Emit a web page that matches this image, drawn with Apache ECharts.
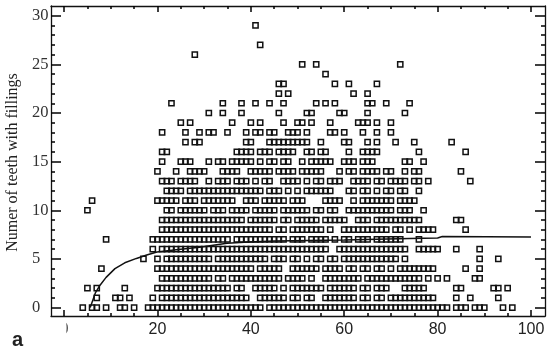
<!DOCTYPE html>
<html>
  <head>
    <meta charset="utf-8" />
    <title>Number of teeth with fillings</title>
    <script src="https://cdn.jsdelivr.net/npm/echarts@6/dist/echarts.min.js"></script>
    <style>
      html, body { margin: 0; padding: 0; background: #fff; }
      #chart { width: 550px; height: 352px; }
    </style>
  </head>
  <body>
    <div id="chart"></div>
    <script type="text/javascript">
      // ages seen on each row of the plot, row number = teeth with fillings
      var row0 = [4,6,7,9,12,13,15,18,19,20,21,22,23,24,25,26,27,28,29,30,31,32,33,34,35,36,37,38,39,40,41,42,44,45,46,47,48,49,50,51,52,53,54,55,56,57,58,59,60,61,62,63,64,65,66,67,68,69,70,71,72,73,74,75,76,77,78,79,80,81,82,84,85,86,88,89,90,94,96];
      var row1 = [7,11,12,14,19,21,22,23,24,25,26,27,28,29,30,31,32,33,34,35,36,37,38,39,42,43,44,45,46,47,49,50,52,53,56,57,58,59,60,61,62,64,65,67,68,70,71,72,73,74,75,76,77,78,79,84,87,93];
      var row2 = [5,7,13,20,21,22,23,24,25,26,27,28,29,30,31,32,33,34,35,37,38,41,42,43,44,45,47,49,50,51,52,53,54,55,57,58,59,60,61,62,64,65,67,68,69,73,74,75,76,77,84,85,92,93,95];
      var row3 = [21,22,23,24,25,26,27,28,29,30,31,33,34,36,37,38,39,40,41,42,43,44,45,46,48,49,50,51,53,56,57,58,59,60,61,62,63,65,66,67,68,69,70,71,72,73,74,75,76,78,80,82,88,89];
      var row4 = [8,20,21,22,23,24,25,26,27,28,29,30,31,32,33,34,35,36,37,38,39,40,42,43,44,45,46,49,50,51,52,53,54,56,57,58,59,61,62,64,65,67,68,70,72,73,74,75,76,77,78,79,86,89];
      var row5 = [17,20,22,23,24,25,26,27,28,29,30,31,33,34,35,36,37,38,39,40,41,42,43,45,46,47,49,50,52,54,55,57,58,60,61,62,63,64,65,66,67,68,69,70,71,73,89,93];
      var row6 = [19,21,22,23,24,25,26,27,28,29,30,31,32,33,34,35,36,37,38,39,40,41,42,43,44,45,46,47,48,49,50,51,52,53,54,55,56,59,60,61,62,63,64,65,66,67,68,69,70,71,72,73,76,77,78,79,80,84,89];
      var row7 = [9,19,20,21,22,23,24,25,26,27,28,29,30,31,32,33,34,35,37,38,39,40,41,42,43,44,45,46,47,49,50,51,53,54,55,56,58,60,61,63,64,65,67,68,69,70,71,72,76];
      var row8 = [21,22,23,24,25,26,27,28,29,30,31,32,33,34,35,36,37,38,39,40,41,42,43,44,46,47,49,50,51,52,53,54,55,57,60,61,62,63,64,65,66,67,68,69,71,72,74,76,77,78,79,86];
      var row9 = [21,22,23,24,25,26,27,28,29,30,31,32,33,34,35,36,37,38,40,41,42,43,44,45,47,48,50,51,52,53,54,56,57,58,59,60,63,64,65,67,68,69,70,71,72,73,74,75,76,84,85];
      var row10 = [5,22,23,25,26,27,28,29,30,32,33,34,36,37,38,39,41,42,43,44,45,47,48,49,50,51,52,54,55,57,58,61,62,63,64,65,66,67,68,69,70,72,73,74,77];
      var row11 = [6,20,21,22,23,24,26,27,28,30,31,32,33,34,35,36,39,40,41,43,44,45,46,47,49,50,51,56,57,58,59,62,64,65,66,67,68,69,70,72,73,74,75];
      var row12 = [22,23,24,25,27,28,29,30,31,32,33,34,35,36,37,38,39,40,41,42,44,45,46,48,50,52,53,54,55,56,57,61,62,64,65,67,69,70,72,73,76];
      var row13 = [21,22,23,25,26,27,28,31,33,34,35,37,38,39,41,43,44,47,48,49,50,52,54,55,57,58,59,62,63,64,65,67,68,70,71,72,73,75,76,78,87];
      var row14 = [20,24,27,28,29,30,34,35,36,37,40,41,42,43,44,46,47,48,49,51,52,53,54,55,59,61,62,64,65,66,67,69,70,73,75,76,85];
      var row15 = [21,25,26,27,31,33,34,36,37,38,39,40,42,44,45,47,48,51,53,54,55,56,57,60,61,62,64,65,66,73,74,77];
      var row16 = [21,22,37,38,39,40,42,43,44,46,47,48,49,52,53,55,56,61,64,65,66,67,76,86];
      var row17 = [26,28,29,39,40,44,45,46,47,48,49,50,51,52,55,60,61,65,67,71,75,83];
      var row18 = [21,26,29,31,32,35,39,41,42,44,45,48,49,50,52,57,58,60,64,67,70];
      var row19 = [25,27,36,40,42,47,50,51,53,57,63,64,65,67,70];
      var row20 = [31,34,38,46,52,53,59,60,65,73];
      var row21 = [23,34,38,41,44,47,54,56,58,65,66,69,74];
      var row22 = [46,48,62,65];
      var row23 = [46,47,58,61,67];
      var row24 = [56];
      var row25 = [51,54,72];
      var row26 = [28];
      var row27 = [42];
      var row28 = [];
      var row29 = [41];
      var rows = [row0,row1,row2,row3,row4,row5,row6,row7,row8,row9,row10,row11,row12,row13,row14,row15,row16,row17,row18,row19,row20,row21,row22,row23,row24,row25,row26,row27,row28,row29];

      // fitted curve
      var curveAge = [5.6,6.7,7.7,9,10.9,13,15.5,17.7,19.9,24,29,34.9,39.5,45,60,74,80,81,100];
      var curveTeeth = [0,1.5,2.3,3.1,4,4.6,5.05,5.4,5.7,5.95,6.2,6.6,6.75,6.85,6.95,7.09,7.15,7.3,7.26];

      var xLabels = [0,20,40,60,80,100];
      var xMinorTicks = [0,5,10,15,20,25,30,35,40,45,50,55,60,65,70,75,80,85,90,95,100];
      var yLabels = [0,5,10,15,20,25,30];
      var yMinorTicks = [0,1,2,3,4,5,6,7,8,9,10,11,12,13,14,15,16,17,18,19,20,21,22,23,24,25,26,27,28,29,30];
      var yTitle = "Numer of teeth with fillings";

      var points = [];
      rows.forEach(function (ages, teeth) {
        ages.forEach(function (age) {
          points.push([age, teeth]);
        });
      });

      var curve = curveAge.map(function (age, i) {
        return [age, curveTeeth[i]];
      });

      var lineStyle = { color: "#111", width: 1.3 };
      var tickStyle = { color: "#000", width: 1.5 };

      // gridIndex 0 carries the frame and long ticks, gridIndex 1 only the short ticks
      function xAxis(gridIndex, position, ticks, tickLen, labels) {
        return {
          type: "value",
          gridIndex: gridIndex,
          position: position,
          min: -2.8,
          max: 103,
          splitLine: { show: false },
          axisLine: { show: gridIndex === 0, onZero: false, lineStyle: lineStyle },
          axisTick: { show: true, inside: true, length: tickLen, customValues: ticks, lineStyle: tickStyle },
          axisLabel: labels
            ? { show: true, customValues: labels, margin: 6, color: "#222", fontFamily: "Liberation Sans", fontSize: 16 }
            : { show: false },
        };
      }

      function yAxis(gridIndex, position, ticks, tickLen, labels) {
        return {
          type: "value",
          gridIndex: gridIndex,
          position: position,
          min: -0.87,
          max: 31,
          splitLine: { show: false },
          axisLine: { show: gridIndex === 0, onZero: false, lineStyle: lineStyle },
          axisTick: { show: true, inside: true, length: tickLen, customValues: ticks, lineStyle: tickStyle },
          axisLabel: labels
            ? { show: true, customValues: labels, margin: 19, align: "left", color: "#333", fontFamily: "Liberation Serif", fontSize: 16.5 }
            : { show: false },
        };
      }

      var gridBox = { left: 51, right: 5, top: 6, bottom: 36 };

      var myChart = echarts.init(document.getElementById("chart"), null, { renderer: "canvas" });
      myChart.setOption({
        animation: false,
        backgroundColor: "#fff",
        grid: [gridBox, gridBox],
        xAxis: [
          xAxis(0, "bottom", xLabels, 6, xLabels),
          xAxis(0, "top", xLabels, 6),
          xAxis(1, "bottom", xMinorTicks, 3),
          xAxis(1, "top", xMinorTicks, 3),
        ],
        yAxis: [
          yAxis(0, "left", yLabels, 10, yLabels),
          yAxis(0, "right", yLabels, 10),
          yAxis(1, "left", yMinorTicks, 4),
          yAxis(1, "right", yMinorTicks, 4),
        ],
        series: [
          {
            type: "scatter",
            xAxisIndex: 0,
            yAxisIndex: 0,
            symbol: "rect",
            symbolSize: 5.2,
            itemStyle: { color: "transparent", borderColor: "#111", borderWidth: 1.5, opacity: 1 },
            data: points,
          },
          {
            type: "line",
            xAxisIndex: 0,
            yAxisIndex: 0,
            showSymbol: false,
            smooth: false,
            lineStyle: { color: "#111", width: 1.5 },
            data: curve,
          },
        ],
        graphic: [
          // the 0 under the axis is cut off in the original
          { type: "rect", z: 100, shape: { x: 56, y: 320, width: 10.5, height: 19 }, style: { fill: "#fff" } },
          {
            type: "text",
            z: 100,
            x: 13,
            y: 162.5,
            rotation: Math.PI / 2,
            style: { text: yTitle, fill: "#222", align: "center", verticalAlign: "middle", font: "16px 'Liberation Serif'" },
          },
          {
            type: "text",
            z: 100,
            left: 12,
            top: 330,
            style: { text: "a", fill: "#222", font: "bold 20px 'Liberation Sans'" },
          },
        ],
      });
    </script>
  </body>
</html>
